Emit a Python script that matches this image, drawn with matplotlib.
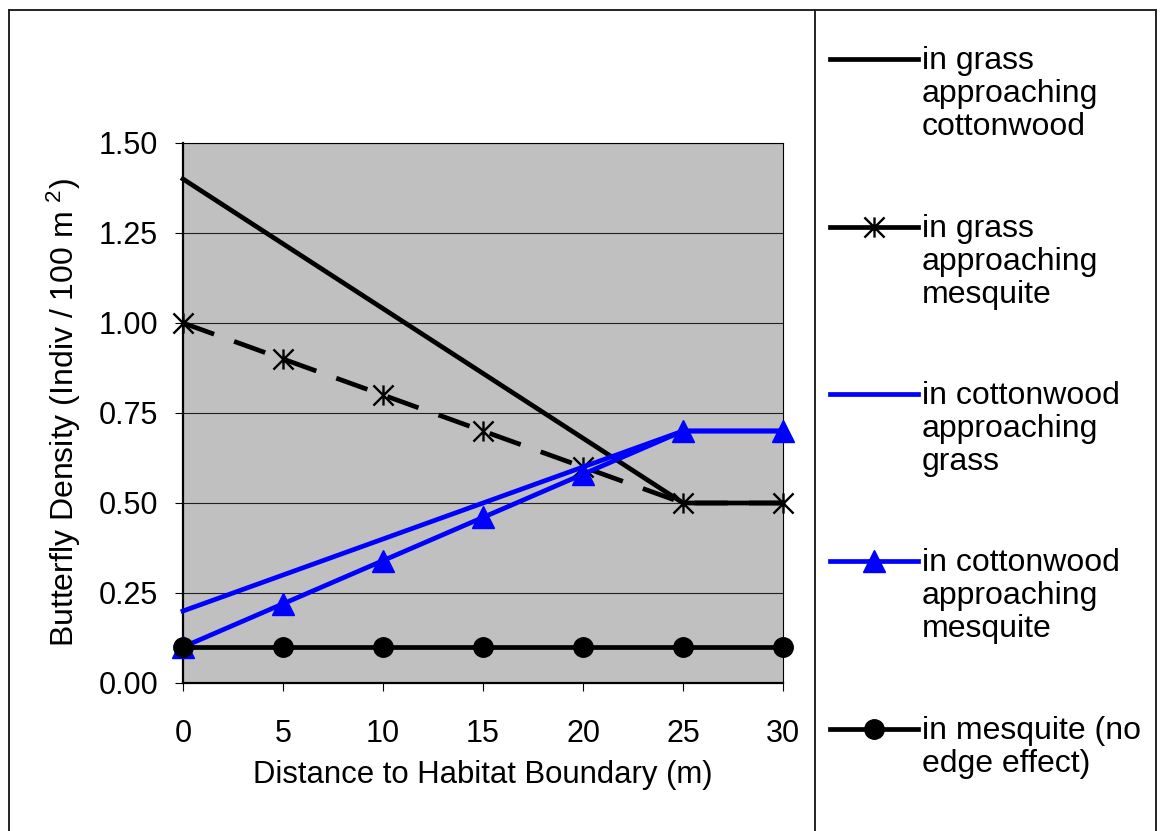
import numpy as np
import matplotlib.pyplot as plt
from matplotlib.lines import Line2D
from matplotlib.path import Path

plt.rcParams['font.family'] = ['Liberation Sans', 'DejaVu Sans']
plt.rcParams['mathtext.fontset'] = 'custom'
plt.rcParams['mathtext.rm'] = 'Liberation Sans'
plt.rcParams['mathtext.it'] = 'Liberation Sans:italic'

# data
distance = [0, 5, 10, 15, 20, 25, 30]
grass_cottonwood = [1.40, 1.22, 1.04, 0.86, 0.68, 0.50, 0.50]
grass_mesquite = [1.00, 0.90, 0.80, 0.70, 0.60, 0.50, 0.50]
cottonwood_grass = [0.20, 0.30, 0.40, 0.50, 0.60, 0.70, 0.70]
cottonwood_mesquite = [0.10, 0.22, 0.34, 0.46, 0.58, 0.70, 0.70]
mesquite = [0.10, 0.10, 0.10, 0.10, 0.10, 0.10, 0.10]

labels = ['in grass\napproaching\ncottonwood',
          'in grass\napproaching\nmesquite',
          'in cottonwood\napproaching\ngrass',
          'in cottonwood\napproaching\nmesquite',
          'in mesquite (no\nedge effect)']
series = [grass_cottonwood, grass_mesquite, cottonwood_grass,
          cottonwood_mesquite, mesquite]

# asterisk marker: X with a vertical bar
star = Path([(0, -1), (0, 1), (-1, -1), (1, 1), (-1, 1), (1, -1)],
            [Path.MOVETO, Path.LINETO] * 3)

line_color = ['black', 'black', '#0000FF', '#0000FF', 'black']
line_dash = [None, (7, 4.5), None, None, None]
line_marker = [None, star, None, '^', 'o']
marker_size = [0, 14.5, 0, 16, 14]
line_width = 3.4
ftsize = 22
lbsize = 23

# figure geometry in pixels
W, H = 1164, 831
fig = plt.figure(figsize=(W/100, H/100), dpi=100)
ax = fig.add_axes([183/W, 1-683/H, 600/W, 540/H])
ax.set_facecolor('#C0C0C0')

for k in range(len(series)):
    kw = dict(color=line_color[k], lw=line_width, zorder=3+k)
    if line_marker[k] is not None:
        kw.update(marker=line_marker[k], ms=marker_size[k],
                  mfc=line_color[k], mec=line_color[k])
        if line_marker[k] is star:
            kw.update(mew=1.7)
    ln, = ax.plot(distance, series[k], clip_on=False, **kw)
    if line_dash[k] is not None:
        ln.set_dashes(line_dash[k])

ax.set_xlim(0, 30)
ax.set_ylim(0, 1.5)
ax.set_xticks(np.arange(0, 31, 5))
ax.set_yticks(np.arange(0, 1.51, 0.25))
ax.set_yticklabels(['{:.2f}'.format(v) for v in np.arange(0, 1.51, 0.25)])
ax.yaxis.grid(True, color='#202020', lw=0.8)
ax.set_axisbelow(True)

for s in ['left', 'bottom']:
    ax.spines[s].set_linewidth(1.6)
for s in ['top', 'right']:
    ax.spines[s].set_linewidth(0.8)

ax.tick_params(axis='both', direction='out', length=6, width=0.8,
               labelsize=ftsize)
ax.tick_params(axis='y', pad=12)
ax.tick_params(axis='x', pad=20)

ax.set_xlabel('Distance to Habitat Boundary (m)', fontsize=22.4,
              labelpad=8)
ax.set_ylabel(r'Butterfly Density (Indiv / 100 m $^{2}$)', fontsize=lbsize,
              labelpad=11)

# legend drawn by hand
leg_y = [59, 227, 394, 561, 729]
for k in range(len(series)):
    y = 1 - leg_y[k]/H
    kw = dict(color=line_color[k], lw=line_width)
    if line_marker[k] is not None:
        kw.update(marker=line_marker[k], ms=marker_size[k], markevery=[1],
                  mfc=line_color[k], mec=line_color[k])
        if line_marker[k] is star:
            kw.update(mew=1.7)
    fig.add_artist(Line2D([830/W, 874/W, 918/W], [y, y, y], **kw))
    fig.text(922/W, 1 - (leg_y[k] - 13)/H, labels[k], fontsize=lbsize,
             va='top', ha='left', linespacing=1.13)

# outer border and divider
border = dict(color='#222222', lw=1.4)
fig.add_artist(Line2D([9/W, 1156/W], [1-10/H, 1-10/H], **border))
fig.add_artist(Line2D([9/W, 9/W], [1-10/H, 0], **border))
fig.add_artist(Line2D([1156/W, 1156/W], [1-10/H, 0], **border))
fig.add_artist(Line2D([815/W, 815/W], [1-10/H, 0], **border))

fig.savefig('out.png', dpi=100)
